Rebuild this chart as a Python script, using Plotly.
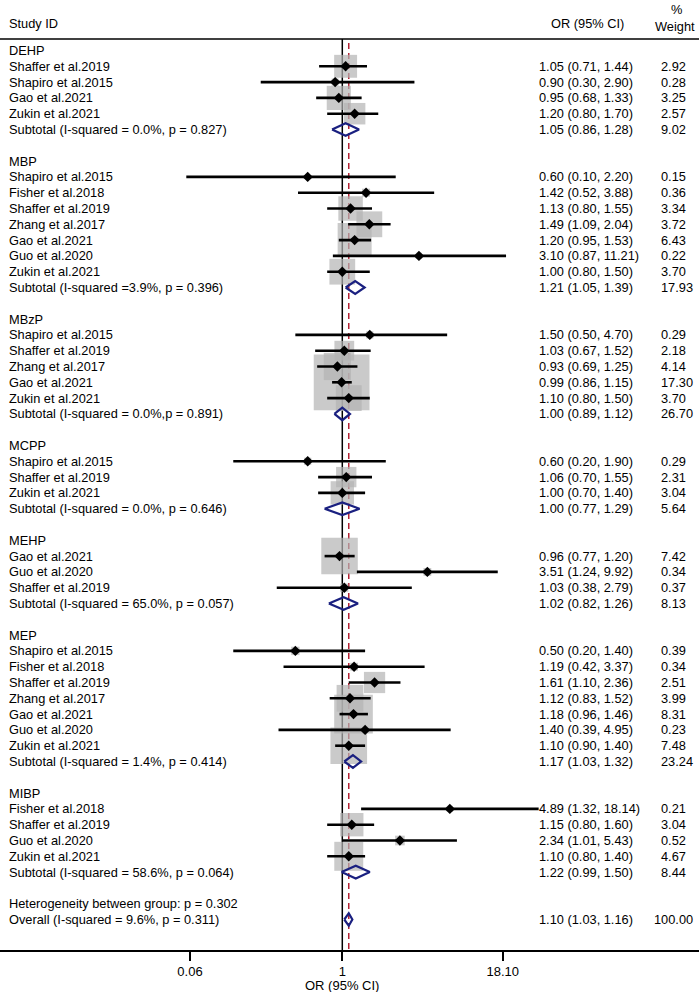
import plotly.graph_objects as go

# ---- data ----
GROUPS = ["DEHP", "MBP", "MBzP", "MCPP", "MEHP", "MEP", "MIBP"]

STUDY_GROUP = [
    "DEHP", "DEHP", "DEHP", "DEHP",
    "MBP", "MBP", "MBP", "MBP", "MBP", "MBP", "MBP",
    "MBzP", "MBzP", "MBzP", "MBzP", "MBzP",
    "MCPP", "MCPP", "MCPP",
    "MEHP", "MEHP", "MEHP",
    "MEP", "MEP", "MEP", "MEP", "MEP", "MEP", "MEP",
    "MIBP", "MIBP", "MIBP", "MIBP",
]
STUDY = [
    "Shaffer et al.2019", "Shapiro et al.2015", "Gao et al.2021", "Zukin et al.2021",
    "Shapiro et al.2015", "Fisher et al.2018", "Shaffer et al.2019", "Zhang et al.2017",
    "Gao et al.2021", "Guo et al.2020", "Zukin et al.2021",
    "Shapiro et al.2015", "Shaffer et al.2019", "Zhang et al.2017", "Gao et al.2021",
    "Zukin et al.2021",
    "Shapiro et al.2015", "Shaffer et al.2019", "Zukin et al.2021",
    "Gao et al.2021", "Guo et al.2020", "Shaffer et al.2019",
    "Shapiro et al.2015", "Fisher et al.2018", "Shaffer et al.2019", "Zhang et al.2017",
    "Gao et al.2021", "Guo et al.2020", "Zukin et al.2021",
    "Fisher et al.2018", "Shaffer et al.2019", "Guo et al.2020", "Zukin et al.2021",
]
OR = [1.05, 0.90, 0.95, 1.20,
      0.60, 1.42, 1.13, 1.49, 1.20, 3.10, 1.00,
      1.50, 1.03, 0.93, 0.99, 1.10,
      0.60, 1.06, 1.00,
      0.96, 3.51, 1.03,
      0.50, 1.19, 1.61, 1.12, 1.18, 1.40, 1.10,
      4.89, 1.15, 2.34, 1.10]
LOWER = [0.71, 0.30, 0.68, 0.80,
         0.10, 0.52, 0.80, 1.09, 0.95, 0.87, 0.80,
         0.50, 0.67, 0.69, 0.86, 0.80,
         0.20, 0.70, 0.70,
         0.77, 1.24, 0.38,
         0.20, 0.42, 1.10, 0.83, 0.96, 0.39, 0.90,
         1.32, 0.80, 1.01, 0.80]
UPPER = [1.44, 2.90, 1.33, 1.70,
         2.20, 3.88, 1.55, 2.04, 1.53, 11.21, 1.50,
         4.70, 1.52, 1.25, 1.15, 1.50,
         1.90, 1.55, 1.40,
         1.20, 9.92, 2.79,
         1.40, 3.37, 2.36, 1.52, 1.46, 4.95, 1.40,
         18.14, 1.60, 5.43, 1.40]
WEIGHT = [2.92, 0.28, 3.25, 2.57,
          0.15, 0.36, 3.34, 3.72, 6.43, 0.22, 3.70,
          0.29, 2.18, 4.14, 17.30, 3.70,
          0.29, 2.31, 3.04,
          7.42, 0.34, 0.37,
          0.39, 0.34, 2.51, 3.99, 8.31, 0.23, 7.48,
          0.21, 3.04, 0.52, 4.67]

SUB_LABEL = [
    "Subtotal (I-squared = 0.0%, p = 0.827)",
    "Subtotal (I-squared =3.9%, p = 0.396)",
    "Subtotal (I-squared = 0.0%,p = 0.891)",
    "Subtotal (I-squared = 0.0%, p = 0.646)",
    "Subtotal (I-squared = 65.0%, p = 0.057)",
    "Subtotal (I-squared = 1.4%, p = 0.414)",
    "Subtotal (I-squared = 58.6%, p = 0.064)",
]
SUB_OR = [1.05, 1.21, 1.00, 1.00, 1.02, 1.17, 1.22]
SUB_LOWER = [0.86, 1.05, 0.89, 0.77, 0.82, 1.03, 0.99]
SUB_UPPER = [1.28, 1.39, 1.12, 1.29, 1.26, 1.32, 1.50]
SUB_WEIGHT = [9.02, 17.93, 26.70, 5.64, 8.13, 23.24, 8.44]

HET_LABEL = "Heterogeneity between group: p = 0.302"
OVERALL_LABEL = "Overall (I-squared = 9.6%, p = 0.311)"
OVERALL_OR, OVERALL_LOWER, OVERALL_UPPER, OVERALL_WEIGHT = 1.10, 1.03, 1.16, 100.00

TICK_LABELS = ["0.06", "1", "18.10"]

# ---- layout constants (pixels of a 699 x 992 page) ----
W, H = 699, 992
TOP, BOTTOM = 39, 950
ROW0_PX, ROW_PX = 50.5, 15.8
PX_PER_DECADE, NULL_PX = 156.0, 342.3

FONT = "Liberation Sans, Arial, sans-serif"
FS = 12.8
GRAY = "#b4b4b4"
NAVY = "#1a2080"
RED = "#b22234"
BOX_PX = 13.4  # box side per sqrt(weight)


def ci_text(o, lo, hi):
    return f"{o:.2f} ({lo:.2f}, {hi:.2f})"


# assign rows
study_row = [0] * len(STUDY)
sub_row = []
group_row = []
r = 0
for g in GROUPS:
    group_row.append(r)
    r += 1
    for i, sg in enumerate(STUDY_GROUP):
        if sg == g:
            study_row[i] = r
            r += 1
    sub_row.append(r)
    r += 2
het_row = r
overall_row = r + 1

y_top = -(ROW0_PX - TOP) / ROW_PX
y_bot = overall_row + (BOTTOM - (ROW0_PX + overall_row * ROW_PX)) / ROW_PX

fig = go.Figure()

# weight boxes (area ~ weight)
fig.add_trace(go.Scatter(
    x=OR, y=study_row, mode="markers",
    marker=dict(symbol="square", color=GRAY, size=WEIGHT, sizemode="area",
                sizeref=2 / BOX_PX ** 2, line=dict(width=0)),
    hoverinfo="skip", showlegend=False,
))

# confidence intervals
cx, cy = [], []
for lo, hi, rr in zip(LOWER, UPPER, study_row):
    cx += [lo, hi, None]
    cy += [rr, rr, None]
fig.add_trace(go.Scatter(x=cx, y=cy, mode="lines",
                         line=dict(color="black", width=2.6),
                         hoverinfo="skip", showlegend=False))

# point estimates
fig.add_trace(go.Scatter(x=OR, y=study_row, mode="markers",
                         marker=dict(symbol="diamond", color="black", size=8),
                         hoverinfo="skip", showlegend=False))

# pooled diamonds
dx, dy = [], []
hh = 0.4
for o, lo, hi, rr in zip(SUB_OR + [OVERALL_OR], SUB_LOWER + [OVERALL_LOWER],
                         SUB_UPPER + [OVERALL_UPPER], sub_row + [overall_row]):
    dx += [lo, o, hi, o, lo, None]
    dy += [rr, rr - hh, rr, rr + hh, rr, None]
fig.add_trace(go.Scatter(x=dx, y=dy, mode="lines",
                         line=dict(color=NAVY, width=2.2),
                         hoverinfo="skip", showlegend=False))

# reference lines
shapes = [
    dict(type="line", xref="x", yref="paper", x0=1, x1=1, y0=0, y1=1,
         line=dict(color="black", width=1.5), layer="below"),
    dict(type="line", xref="x", yref="y", x0=OVERALL_OR, x1=OVERALL_OR,
         y0=-0.47, y1=y_bot, line=dict(color=RED, width=1.5, dash="6px,4px"),
         layer="below"),
    dict(type="line", xref="paper", yref="paper", x0=0, x1=1, y0=1, y1=1,
         line=dict(color="black", width=1.6)),
]

# text columns
ann = []


def paper_y(p):
    return (BOTTOM - p) / (BOTTOM - TOP)


def txt(x, y, s, anchor="left", yref="y", size=FS):
    ann.append(dict(x=x / W, y=y, xref="paper", yref=yref, text=s,
                    showarrow=False, xanchor=anchor, yanchor="middle",
                    font=dict(family=FONT, size=size, color="black")))


txt(7, paper_y(24), "Study ID", yref="paper")
txt(587, paper_y(24), "OR (95% CI)", anchor="center", yref="paper")
txt(675, paper_y(26.5), "Weight", anchor="center", yref="paper")
txt(676, paper_y(9), "%", anchor="center", yref="paper")

for g, rr in zip(GROUPS, group_row):
    txt(7, rr, g)
for s, o, lo, hi, w, rr in zip(STUDY, OR, LOWER, UPPER, WEIGHT, study_row):
    txt(7, rr, s)
    txt(537, rr, ci_text(o, lo, hi))
    txt(659, rr, f"{w:.2f}")
for s, o, lo, hi, w, rr in zip(SUB_LABEL, SUB_OR, SUB_LOWER, SUB_UPPER, SUB_WEIGHT, sub_row):
    txt(7, rr, s)
    txt(537, rr, ci_text(o, lo, hi))
    txt(659, rr, f"{w:.2f}")
txt(7, het_row, HET_LABEL)
txt(7, overall_row, OVERALL_LABEL)
txt(537, overall_row, ci_text(OVERALL_OR, OVERALL_LOWER, OVERALL_UPPER))
txt(652, overall_row, f"{OVERALL_WEIGHT:.2f}")

# axis title
txt(NULL_PX, paper_y(985), "OR (95% CI)", anchor="center", yref="paper", size=13)

x_left = -NULL_PX / PX_PER_DECADE
x_right = (W - NULL_PX) / PX_PER_DECADE
# tick marks sit where the reference draws them
tick_px = [190, NULL_PX, 502.7]
tick_vals = [10 ** ((p - NULL_PX) / PX_PER_DECADE) for p in tick_px]

fig.update_layout(
    width=W, height=H,
    margin=dict(l=0, r=0, t=TOP, b=H - BOTTOM, pad=0),
    paper_bgcolor="white", plot_bgcolor="white",
    font=dict(family=FONT, size=FS, color="black"),
    shapes=shapes, annotations=ann, showlegend=False,
    xaxis=dict(type="log", range=[x_left, x_right], showgrid=False, zeroline=False,
               showline=True, linecolor="black", linewidth=1.6,
               ticks="outside", ticklen=9, tickwidth=1.6, tickcolor="black",
               tickvals=tick_vals, ticktext=TICK_LABELS,
               tickfont=dict(family=FONT, size=13, color="black"), fixedrange=True),
    yaxis=dict(range=[y_bot, y_top], visible=False, fixedrange=True),
)

fig.write_html(
    "out.html",
    config={"displayModeBar": False},
    post_script="document.body.style.margin='0px';document.body.style.overflow='hidden';",
)
